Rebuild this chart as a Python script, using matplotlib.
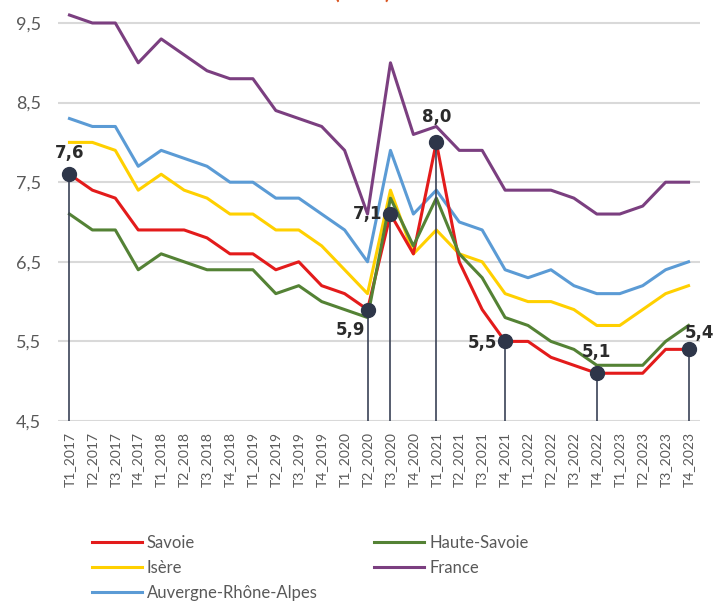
import matplotlib
matplotlib.use("Agg")
import matplotlib.pyplot as plt

plt.rcParams['font.family'] = ['Lato', 'DejaVu Sans']

quarters = [f"T{q}_{y}" for y in range(2017, 2024) for q in range(1, 5)]

savoie = [7.6, 7.4, 7.3, 6.9, 6.9, 6.9, 6.8, 6.6, 6.6, 6.4, 6.5, 6.2, 6.1, 5.9,
          7.1, 6.6, 8.0, 6.5, 5.9, 5.5, 5.5, 5.3, 5.2, 5.1, 5.1, 5.1, 5.4, 5.4]
haute_savoie = [7.1, 6.9, 6.9, 6.4, 6.6, 6.5, 6.4, 6.4, 6.4, 6.1, 6.2, 6.0, 5.9, 5.8,
                7.3, 6.7, 7.3, 6.6, 6.3, 5.8, 5.7, 5.5, 5.4, 5.2, 5.2, 5.2, 5.5, 5.7]
isere = [8.0, 8.0, 7.9, 7.4, 7.6, 7.4, 7.3, 7.1, 7.1, 6.9, 6.9, 6.7, 6.4, 6.1,
         7.4, 6.6, 6.9, 6.6, 6.5, 6.1, 6.0, 6.0, 5.9, 5.7, 5.7, 5.9, 6.1, 6.2]
france = [9.6, 9.5, 9.5, 9.0, 9.3, 9.1, 8.9, 8.8, 8.8, 8.4, 8.3, 8.2, 7.9, 7.1,
          9.0, 8.1, 8.2, 7.9, 7.9, 7.4, 7.4, 7.4, 7.3, 7.1, 7.1, 7.2, 7.5, 7.5]
ara = [8.3, 8.2, 8.2, 7.7, 7.9, 7.8, 7.7, 7.5, 7.5, 7.3, 7.3, 7.1, 6.9, 6.5,
       7.9, 7.1, 7.4, 7.0, 6.9, 6.4, 6.3, 6.4, 6.2, 6.1, 6.1, 6.2, 6.4, 6.5]

yticks = [4.5, 5.5, 6.5, 7.5, 8.5, 9.5]
ytick_labels = ["4,5", "5,5", "6,5", "7,5", "8,5", "9,5"]

highlight_idx = [0, 13, 14, 16, 19, 23, 27]
highlight_labels = ["7,6", "5,9", "7,1", "8,0", "5,5", "5,1", "5,4"]
# (dx, dy in points, ha, va)
label_pos = [(0, 9, 'center', 'bottom'),
             (-12, -8, 'center', 'top'),
             (-6, 0, 'right', 'center'),
             (0, 12, 'center', 'bottom'),
             (-6, -1, 'right', 'center'),
             (0, 9, 'center', 'bottom'),
             (-3, 5, 'left', 'bottom')]

fig = plt.figure(figsize=(7.16, 6.01), dpi=100)
ax = fig.add_axes([58/716, 1 - 421/601, 642/716, 421/601])

x = list(range(len(quarters)))
ymin = 4.5
ymax = 9.5 + 23/79.6

ax.set_xlim(-0.5, len(quarters) - 0.5)
ax.set_ylim(ymin, ymax)

for yt in yticks:
    ax.axhline(yt, color='#D9D9D9', lw=1.5, zorder=0)

lw = 2.2
l_sav, = ax.plot(x, savoie, color='#E31B1B', lw=lw, label='Savoie', zorder=3)
l_hs, = ax.plot(x, haute_savoie, color='#548235', lw=lw, label='Haute-Savoie', zorder=3)
l_is, = ax.plot(x, isere, color='#FFD000', lw=lw, label='Isère', zorder=2.5)
l_fr, = ax.plot(x, france, color='#7B3F80', lw=lw, label='France', zorder=2)
l_ara, = ax.plot(x, ara, color='#5B9BD5', lw=lw, label='Auvergne-Rhône-Alpes', zorder=2)

for i, lab, (dx, dy, ha, va) in zip(highlight_idx, highlight_labels, label_pos):
    ax.vlines(i, ymin, savoie[i], color='#3A4256', lw=1.2, zorder=4)
    ax.plot(i, savoie[i], 'o', color='#2E3649', ms=10, zorder=5)
    ax.annotate(lab, (i, savoie[i]), xytext=(dx, dy), textcoords='offset points',
                ha=ha, va=va, fontsize=12, fontweight='heavy', color='#2B2B2B',
                family=['DejaVu Sans'], zorder=6, annotation_clip=False)

ax.set_yticks(yticks)
ax.set_yticklabels(ytick_labels)
ax.set_xticks(x)
ax.set_xticklabels(quarters, rotation=90)
ax.tick_params(axis='y', length=0, labelsize=13, labelcolor='#595959', pad=12)
ax.tick_params(axis='x', length=0, labelsize=10, labelcolor='#595959', pad=8)
for s in ax.spines.values():
    s.set_visible(False)

fig.text(362/716, 1.0 + 0.003, "(en %)", ha='center', va='baseline',
         fontsize=15, fontweight='bold', color='#D9531E')

handles = [l_sav, l_is, l_ara, l_hs, l_fr]
leg = fig.legend(handles=handles, labels=[h.get_label() for h in handles],
                 ncol=2, loc='upper left', bbox_to_anchor=(85/716, 1 - 528/601),
                 frameon=False, fontsize=12, handlelength=3.0, handletextpad=0.3,
                 columnspacing=3.4, labelspacing=0.55, borderaxespad=0)
for t in leg.get_texts():
    t.set_color('#595959')

fig.savefig("out.png", dpi=100)
